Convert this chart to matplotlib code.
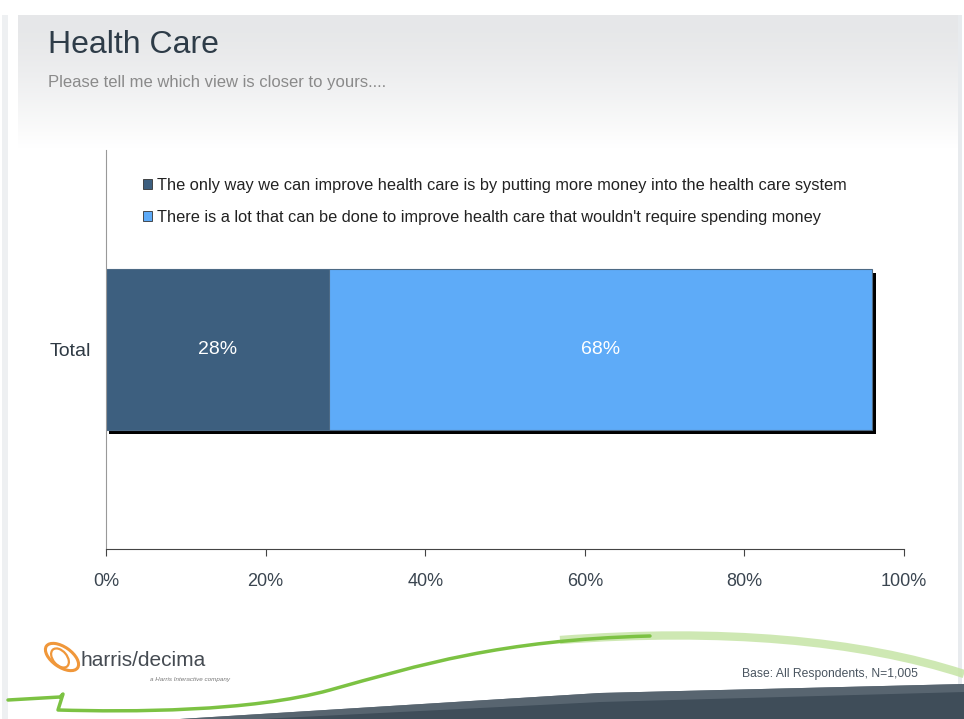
import numpy as np
import matplotlib.pyplot as plt
import matplotlib.patheffects as pe
from matplotlib.patches import Polygon, Rectangle, Ellipse, PathPatch
from matplotlib.path import Path

plt.rcParams['font.family'] = ['Liberation Sans', 'DejaVu Sans']

# data
categories = ["Total"]
only_money = [28]
no_money = [68]
series_names = ["The only way we can improve health care is by putting more money into the health care system",
                "There is a lot that can be done to improve health care that wouldn't require spending money"]
xticks = [0, 20, 40, 60, 80, 100]
xtick_labels = ["0%", "20%", "40%", "60%", "80%", "100%"]

W, H = 964, 719
fig = plt.figure(figsize=(W / 100, H / 100), dpi=100)
fig.patch.set_facecolor("white")

# slide background: light gray band at the top fading to white
bg = fig.add_axes([0, 0, 1, 1], zorder=-10)
bg.set_xlim(0, W)
bg.set_ylim(H, 0)
bg.axis("off")
yy = np.arange(H)
shade = np.clip((yy - 15) / 120.0, 0, 1) ** 1.3
g = 0.905 + 0.095 * shade
img = np.dstack([g, g + 0.004 * (1 - shade), g + 0.01 * (1 - shade)]).reshape(H, 1, 3)
img = np.clip(img, 0, 1)
bg.imshow(img, extent=[18, 962, H, 15], aspect="auto", zorder=0)
# faint slide edges
bg.add_patch(Rectangle((2, 15), 6, 705, color="#eef0f2", zorder=1, lw=0))
bg.add_patch(Rectangle((958, 15), 4, 705, color="#e8ebee", zorder=1, lw=0))

# dark band at bottom
bg.add_patch(Polygon([(180, 719), (600, 693), (964, 684), (964, 719)], closed=True,
                     facecolor="#3f4d59", edgecolor="none", zorder=2))
bg.add_patch(Polygon([(180, 719), (600, 693), (964, 684), (964, 692), (600, 702), (260, 719)], closed=True,
                     facecolor="#5f6c77", edgecolor="none", zorder=2, alpha=0.8))

# green swoosh
C4, L2 = Path.CURVE4, Path.LINETO
swoosh1 = Path([(8, 700), (60, 697), (63, 694), (58, 710),
                (130, 712), (250, 712), (330, 690),
                (420, 665), (500, 640), (650, 636)],
               [Path.MOVETO, L2, L2, L2, C4, C4, C4, C4, C4, C4])
swoosh2 = Path([(560, 640), (720, 628), (860, 640), (964, 674)],
               [Path.MOVETO, C4, C4, C4])
bg.add_patch(PathPatch(swoosh2, fill=False, edgecolor="#c6e4a6", lw=6, alpha=0.85, zorder=3))
bg.add_patch(PathPatch(swoosh1, fill=False, edgecolor="#7cc243", lw=2.5, zorder=3,
                       capstyle="round", joinstyle="round"))

# logo
bg.add_patch(Ellipse((62, 657), 38, 20, angle=35, fill=False, edgecolor="#f0973a", lw=2.2, zorder=4))
bg.add_patch(Ellipse((60, 658), 22, 14, angle=50, fill=False, edgecolor="#f0973a", lw=1.6, zorder=4))
bg.text(80, 661, "harris/decima", fontsize=15, color="#454b52", va="center", ha="left", zorder=5)
bg.text(230, 680, "a Harris Interactive company", fontsize=4.5, color="#777777",
        style="italic", va="center", ha="right", zorder=5)
bg.text(918, 674, "Base: All Respondents, N=1,005", fontsize=8.7, color="#4a5560",
        va="center", ha="right", zorder=5)

# titles
fig.text(48 / W, 1 - 45 / H, "Health Care", fontsize=23, color="#2e3c48", va="center", ha="left")
fig.text(48 / W, 1 - 82 / H, "Please tell me which view is closer to yours....", fontsize=12,
         color="#8a8a8a", va="center", ha="left")

# main chart
ax = fig.add_axes([106 / W, 1 - 549 / H, 798 / W, 399 / H])
ax.set_facecolor("none")
y = np.arange(len(categories))
shadow = [pe.SimplePatchShadow(offset=(2.5, -3), shadow_rgbFace="black", alpha=1.0), pe.Normal()]
b1 = ax.barh(y, only_money, height=0.81, color="#3d5f7f", edgecolor="#4d6a85", lw=0.8)
b2 = ax.barh(y, no_money, left=only_money, height=0.81, color="#5eabf8", edgecolor="#4d6a85", lw=0.8)
for b in list(b1) + list(b2):
    b.set_path_effects(shadow)

for i in range(len(categories)):
    ax.text(only_money[i] / 2, y[i], f"{only_money[i]}%", color="white", fontsize=14,
            ha="center", va="center")
    ax.text(only_money[i] + no_money[i] / 2, y[i], f"{no_money[i]}%", color="white", fontsize=14,
            ha="center", va="center")

ax.set_xlim(0, 100)
ax.set_ylim(-1, 1)
ax.set_xticks(xticks)
ax.set_xticklabels(xtick_labels, fontsize=13, color="#3a4550")
ax.set_yticks(y)
ax.set_yticklabels(categories, fontsize=14, color="#2f3a44")
ax.tick_params(axis="x", direction="out", length=5, color="#444444", pad=12)
ax.tick_params(axis="y", length=0, pad=11)
for s in ["top", "right"]:
    ax.spines[s].set_visible(False)
ax.spines["left"].set_color("#999999")
ax.spines["bottom"].set_color("#444444")

handles = [Rectangle((0, 0), 1, 1, facecolor="#3d5f7f", edgecolor="#333333", lw=0.6),
           Rectangle((0, 0), 1, 1, facecolor="#5eabf8", edgecolor="#333333", lw=0.6)]
fig.legend(handles, series_names, loc="upper left", bbox_to_anchor=(136 / W, 1 - 171 / H),
           frameon=False, fontsize=11.8, handlelength=0.6, handleheight=0.6,
           handletextpad=0.3, labelspacing=1.05, borderaxespad=0, labelcolor="#222222")

fig.savefig("out.png", dpi=100, facecolor=fig.get_facecolor())
